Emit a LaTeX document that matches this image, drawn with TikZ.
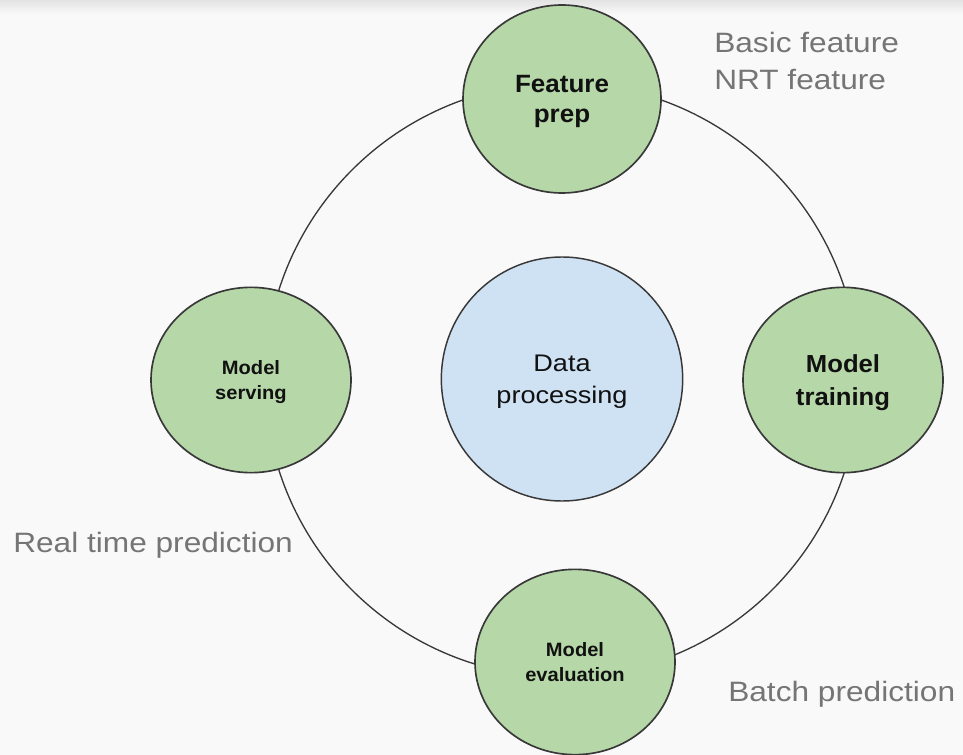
\documentclass[tikz,border=0pt]{standalone}
\usepackage{fontspec}
\setmainfont{Liberation Sans}
\newfontfamily\widefont[FakeStretch=1.13]{Liberation Sans}
\newfontfamily\stagefont[FakeStretch=1.04]{Liberation Sans}
\usetikzlibrary{shapes.geometric}
\definecolor{paper}{HTML}{F9F9F9}
\definecolor{stagegreen}{HTML}{B6D7A8}
\definecolor{hubblue}{HTML}{CFE2F3}
\definecolor{rim}{HTML}{383838}
\definecolor{notegray}{HTML}{757575}
\definecolor{ink}{HTML}{111111}
\begin{document}
\begin{tikzpicture}[x=0.75pt,y=-0.75pt,
  stage/.style={ellipse, draw=rim, line width=1.25pt, fill=stagegreen,
    inner sep=0pt, align=center, text=ink, text depth=0pt,
    minimum width=150pt, minimum height=140pt},
  hub/.style={ellipse, draw=rim, line width=1.1pt, fill=hubblue,
    inner sep=0pt, align=center, text=ink, text depth=0pt,
    minimum width=181pt, minimum height=183pt,
    font=\widefont\fontsize{18}{24}\selectfont},
  note/.style={text=notegray, inner sep=0pt, anchor=base west,
    font=\widefont\fontsize{21}{25}\selectfont},
  ring/.style={draw=rim, line width=1pt}]

% page background with a soft shadow along the top edge
\fill[paper] (0,0) rectangle (963,755);
\shade[top color=black!11, bottom color=paper] (0,0) rectangle (963,14);
\useasboundingbox (0,0) rectangle (963,755);

% the cycle ring behind the stages
\coordinate (centre) at (562,380);
\draw[ring] (centre) circle[radius=222.75pt];

% centre and stages
\node[hub] (data) at (562,379) {Data\\processing};
\node[stage, minimum width=148.5pt, minimum height=141pt,
  font=\stagefont\bfseries\fontsize{18.75}{22.5}\selectfont] (prep) at (562,99) {Feature\\prep};
\node[stage, minimum height=139pt,
  font=\stagefont\bfseries\fontsize{18.5}{24.75}\selectfont] (train) at (843,380) {Model\\training};
\node[stage, minimum height=139pt,
  font=\stagefont\bfseries\fontsize{14.5}{18.75}\selectfont] (serve) at (251,380) {Model\\serving};
\node[stage, minimum height=139pt,
  font=\stagefont\bfseries\fontsize{14.5}{18.75}\selectfont] (eval) at (575,662) {Model\\evaluation};

% side notes
\node[note] (basic) at (714,53) {Basic feature};
\node[note] (nrt) at (714,90) {NRT feature};
\node[note] (realtime) at (13,552) {Real time prediction};
\node[note] (batch) at (728,701) {Batch prediction};
\end{tikzpicture}
\end{document}
